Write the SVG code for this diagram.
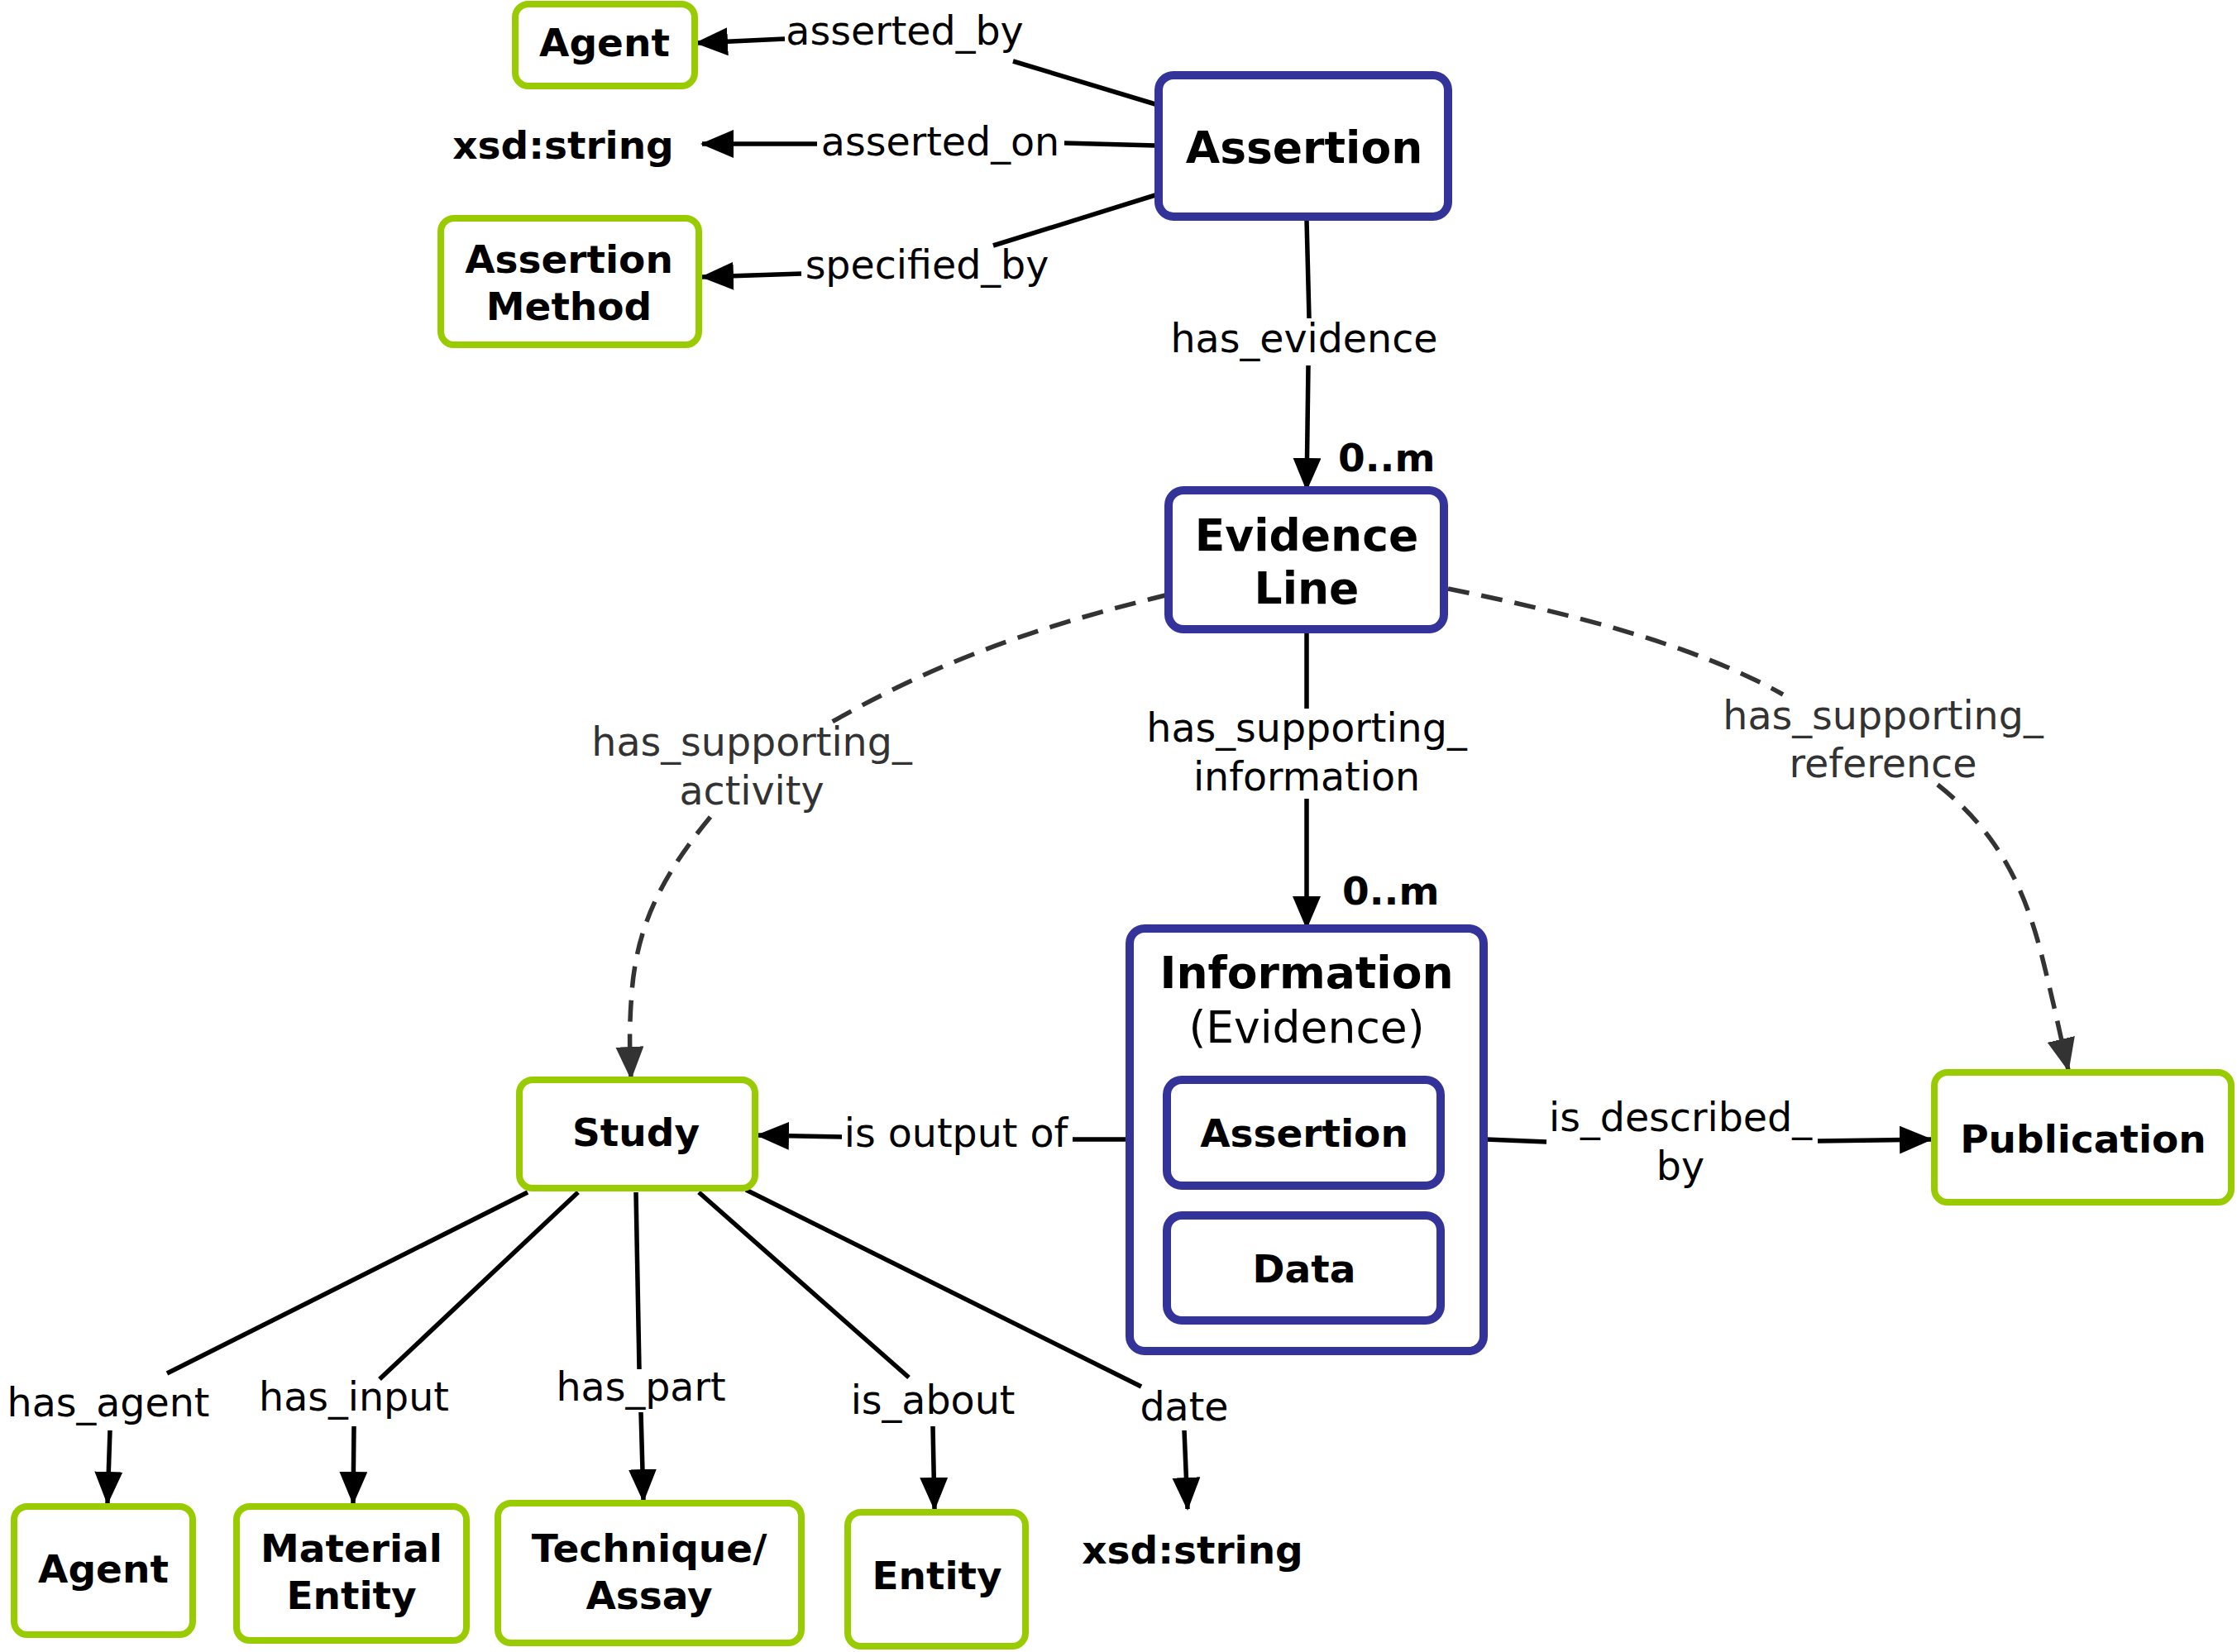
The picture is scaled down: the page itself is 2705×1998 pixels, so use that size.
<svg xmlns="http://www.w3.org/2000/svg" width="2705" height="1998" viewBox="0 0 2705 1998">
<defs>
<style>
.bg{fill:#ffffff}
.g{fill:#ffffff;stroke:#99cc00;stroke-width:8}
.b{fill:#ffffff;stroke:#333399;stroke-width:10}
.nt{font-family:"DejaVu Sans",Verdana,sans-serif;font-weight:bold;font-size:47px;fill:#000;text-anchor:middle}
.big{font-size:53.5px}
.reg{font-weight:normal}
.lt{font-family:"DejaVu Sans",Verdana,sans-serif;font-size:47.5px;fill:#000;text-anchor:middle}
.dl{fill:#333333}
.e{fill:none;stroke:#000;stroke-width:5.5}
.d{fill:none;stroke:#333333;stroke-width:5.5;stroke-dasharray:26 15}
</style>
<marker id="ah" markerUnits="userSpaceOnUse" markerWidth="40" markerHeight="34" refX="38" refY="17" orient="auto">
<path d="M0,0 L40,17 L0,34 z" fill="#000"/>
</marker>
<marker id="ahd" markerUnits="userSpaceOnUse" markerWidth="40" markerHeight="34" refX="38" refY="17" orient="auto">
<path d="M0,0 L40,17 L0,34 z" fill="#333333"/>
</marker>
</defs>
<rect class="bg" x="0" y="0" width="2705" height="1998"/>

<g id="connectors">
<line class="e" x1="1397" y1="126" x2="1225" y2="74"/>
<line class="e" x1="949" y1="47" x2="842" y2="52" marker-end="url(#ah)"/>
<text class="lt" x="1094" y="54">asserted_by</text>
<line class="e" x1="1397" y1="176" x2="1287" y2="173"/>
<line class="e" x1="988" y1="174" x2="849" y2="174" marker-end="url(#ah)"/>
<text class="lt" x="1137" y="188">asserted_on</text>
<line class="e" x1="1397" y1="236" x2="1201" y2="297"/>
<line class="e" x1="969" y1="331" x2="849" y2="335" marker-end="url(#ah)"/>
<text class="lt" x="1121" y="337">specified_by</text>
<line class="e" x1="1580" y1="266" x2="1583" y2="385"/>
<line class="e" x1="1582" y1="442" x2="1580" y2="592" marker-end="url(#ah)"/>
<text class="lt" x="1577" y="426">has_evidence</text>
<text class="nt" x="1618" y="570" style="text-anchor:start">0..m</text>
<line class="e" x1="1580" y1="765" x2="1580" y2="857"/>
<line class="e" x1="1580" y1="966" x2="1580" y2="1122" marker-end="url(#ah)"/>
<text class="lt" x="1580" y="897">has_supporting_</text>
<text class="lt" x="1580" y="956">information</text>
<text class="nt" x="1623" y="1094" style="text-anchor:start">0..m</text>
<path class="d" d="M1413,719 C1280,752 1150,790 1001,876"/>
<path class="d" d="M859,988 C800,1060 770,1120 764,1200 C760,1250 762,1280 763,1304" marker-end="url(#ahd)"/>
<text class="lt dl" x="909" y="914">has_supporting_</text>
<text class="lt dl" x="909" y="973">activity</text>
<path class="d" d="M1751,712 C1900,742 2050,780 2156,840"/>
<path class="d" d="M2343,949 C2420,1010 2450,1080 2470,1160 C2485,1220 2493,1260 2501,1294" marker-end="url(#ahd)"/>
<text class="lt dl" x="2277" y="882">has_supporting_</text>
<text class="lt dl" x="2277" y="940">reference</text>
<line class="e" x1="1363" y1="1378" x2="1297" y2="1378"/>
<line class="e" x1="1018" y1="1375" x2="916" y2="1373" marker-end="url(#ah)"/>
<text class="lt" x="1156" y="1387">is output of</text>
<line class="e" x1="1797" y1="1378" x2="1870" y2="1381"/>
<line class="e" x1="2198" y1="1380" x2="2335" y2="1378" marker-end="url(#ah)"/>
<text class="lt" x="2032" y="1368">is_described_</text>
<text class="lt" x="2032" y="1427">by</text>
<line class="e" x1="638" y1="1442" x2="202" y2="1661"/>
<line class="e" x1="133" y1="1730" x2="130" y2="1818" marker-end="url(#ah)"/>
<text class="lt" x="131" y="1713">has_agent</text>
<line class="e" x1="699" y1="1442" x2="459" y2="1668"/>
<line class="e" x1="428" y1="1725" x2="427" y2="1818" marker-end="url(#ah)"/>
<text class="lt" x="428" y="1706">has_input</text>
<line class="e" x1="769" y1="1442" x2="773" y2="1656"/>
<line class="e" x1="775" y1="1708" x2="778" y2="1815" marker-end="url(#ah)"/>
<text class="lt" x="775" y="1694">has_part</text>
<line class="e" x1="845" y1="1442" x2="1099" y2="1666"/>
<line class="e" x1="1128" y1="1725" x2="1130" y2="1825" marker-end="url(#ah)"/>
<text class="lt" x="1128" y="1710">is_about</text>
<line class="e" x1="902" y1="1439" x2="1380" y2="1677"/>
<line class="e" x1="1432" y1="1730" x2="1436" y2="1825" marker-end="url(#ah)"/>
<text class="lt" x="1432" y="1718">date</text>
</g>

<g id="node-agent-top">
<rect class="g" x="623" y="5" width="217" height="99" rx="16"/>
<text class="nt" x="731" y="68">Agent</text>
</g>
<g id="node-assertion">
<rect class="b" x="1401" y="91" width="350" height="171" rx="18"/>
<text class="nt big" x="1577" y="197">Assertion</text>
</g>
<g id="node-xsd-top">
<text class="nt" x="681" y="192">xsd:string</text>
</g>
<g id="node-assertion-method">
<rect class="g" x="533" y="264" width="312" height="153" rx="16"/>
<text class="nt" x="688" y="330">Assertion</text>
<text class="nt" x="688" y="387">Method</text>
</g>
<g id="node-evidence-line">
<rect class="b" x="1413" y="593" width="333" height="168" rx="18"/>
<text class="nt big" x="1580" y="666">Evidence</text>
<text class="nt big" x="1580" y="730">Line</text>
</g>
<g id="node-information">
<rect class="b" x="1366" y="1123" width="428" height="511" rx="18"/>
<text class="nt big" x="1580" y="1195">Information</text>
<text class="nt big reg" x="1580" y="1261">(Evidence)</text>
</g>
<g id="node-info-assertion">
<rect class="b" x="1411" y="1306" width="331" height="128" rx="18"/>
<text class="nt" x="1577" y="1387">Assertion</text>
</g>
<g id="node-info-data">
<rect class="b" x="1411" y="1470" width="331" height="127" rx="18"/>
<text class="nt" x="1577" y="1551">Data</text>
</g>
<g id="node-study">
<rect class="g" x="628" y="1306" width="285" height="131" rx="16"/>
<text class="nt" x="769" y="1386">Study</text>
</g>
<g id="node-publication">
<rect class="g" x="2339" y="1297" width="359" height="157" rx="16"/>
<text class="nt" x="2519" y="1394">Publication</text>
</g>
<g id="node-agent-bottom">
<rect class="g" x="17" y="1822" width="216" height="155" rx="16"/>
<text class="nt" x="125" y="1914">Agent</text>
</g>
<g id="node-material-entity">
<rect class="g" x="286" y="1822" width="278" height="162" rx="16"/>
<text class="nt" x="425" y="1889">Material</text>
<text class="nt" x="425" y="1946">Entity</text>
</g>
<g id="node-technique">
<rect class="g" x="602" y="1818" width="367" height="169" rx="16"/>
<text class="nt" x="785" y="1889">Technique/</text>
<text class="nt" x="785" y="1946">Assay</text>
</g>
<g id="node-entity">
<rect class="g" x="1025" y="1829" width="215" height="162" rx="16"/>
<text class="nt" x="1133" y="1922">Entity</text>
</g>
<g id="node-xsd-bottom">
<text class="nt" x="1442" y="1891">xsd:string</text>
</g>
</svg>
